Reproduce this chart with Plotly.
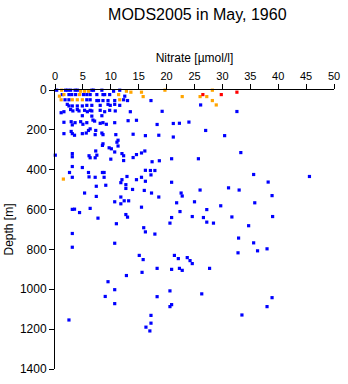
import plotly.graph_objects as go

# Nitrate (umol/l) and depth (m) of each observation, grouped by quality flag colour
blue_nitrate = [
    0.3, 1.9, 2.3, 2.8, 3.6, 4.0, 6.6, 6.9, 8.4, 10.5, 11.6,
    1.3, 2.5, 3.0, 3.7, 5.1, 5.7, 6.3, 7.5, 8.6, 8.9, 9.8, 12.5,
    1.8, 2.5, 5.7, 6.3, 7.5, 7.8, 8.6, 9.5, 10.7, 12.3, 13.0, 17.2,
    2.2, 2.5, 3.1, 4.0, 4.9, 5.7, 6.6, 8.1, 9.5, 9.9, 10.7, 11.6,
    1.6, 2.8, 3.2, 4.0, 4.3, 5.3, 5.8, 6.3, 6.6, 8.1, 8.9, 9.8, 10.8, 13.5, 19.2, 26.1, 32.6,
    1.1, 4.9, 6.6, 8.4,
    1.6, 2.9, 3.1, 3.6, 4.6, 5.0, 5.7, 6.8, 7.1, 8.1, 8.6, 9.2, 10.7, 13.1, 14.6, 18.3, 21.2, 22.3, 24.0, 27.0, 30.4,
    1.6, 2.9, 3.1, 3.5, 4.9, 5.6, 6.3, 7.3, 7.2, 6.0, 8.4, 8.6, 10.9, 11.3, 14.0, 16.2, 18.6, 21.2,
    0.05, 3.1, 3.1, 8.6, 8.5, 11.1, 11.3, 9.7, 10.1, 10.7, 7.3, 7.5, 6.1, 6.3, 7.2, 10.0,
    12.0, 12.3, 12.3, 14.0, 14.6, 15.5, 16.1,
    3.1, 2.6, 3.1, 4.9, 6.0, 8.5, 8.8, 7.2, 8.8, 6.1, 12.9, 12.0, 11.8, 12.7, 14.6, 15.5, 16.2, 16.2,
    7.4, 9.1, 12.7, 13.9, 16.0, 5.3, 7.4, 11.8, 10.7, 12.4, 13.2, 11.8, 15.5, 6.3, 3.1, 3.5, 4.4,
    12.7, 13.0, 7.7, 11.0, 15.9, 16.2, 3.1,
    17.4, 18.7, 20.9, 25.7, 33.3, 17.1, 17.9, 17.2, 20.9, 17.3, 18.6, 22.6, 22.8, 26.0, 31.1, 33.0,
    21.8, 25.0, 29.7, 27.2, 22.4, 20.9, 24.6, 26.6, 31.7, 20.6, 27.2, 28.4, 17.9,
    35.6, 45.6, 38.2, 38.9, 35.8, 34.7, 39.0,
    3.1, 10.7, 15.1, 15.8, 15.6, 12.8, 9.5, 10.7, 9.0, 10.7, 2.5, 16.3,
    32.9, 35.6, 38.0, 36.3, 32.8, 21.4, 23.7, 22.1, 24.2, 24.6, 18.3, 20.9, 22.3, 22.8, 27.7,
    20.6, 26.3, 18.3, 38.9, 20.9, 20.6, 38.0, 33.5, 17.2, 17.2, 17.0,
]
blue_depth = [
    1, 1, 1, 1, 1, 1, 1, 1, 1, 6, 1,
    23, 23, 23, 23, 23, 23, 23, 23, 23, 23, 23, 31,
    49, 49, 49, 49, 53, 53, 53, 53, 53, 49, 53, 53,
    72, 80, 80, 80, 80, 77, 77, 77, 72, 77, 72, 77,
    109, 98, 105, 98, 105, 102, 109, 102, 105, 102, 109, 102, 105, 109, 107, 75, 108,
    114, 129, 131, 129,
    162, 159, 175, 164, 159, 172, 164, 151, 156, 167, 164, 172, 164, 154, 152, 173, 168, 167, 161, 203, 229,
    219, 208, 219, 227, 219, 216, 195, 203, 224, 203, 216, 224, 224, 252, 222, 229, 227, 236,
    327, 319, 335, 270, 278, 262, 281, 290, 295, 311, 306, 327, 330, 340, 340, 347,
    319, 330, 354, 339, 324, 316, 306,
    384, 414, 438, 389, 414, 414, 414, 438, 438, 436, 434, 450, 465, 475, 450, 438, 458, 403,
    483, 478, 494, 499, 504, 517, 534, 537, 561, 556, 556, 571, 588, 594, 599, 598, 615,
    625, 638, 643, 671, 691, 712, 720,
    360, 355, 345, 345, 314, 404, 404, 426, 463, 517, 537, 517, 532, 502, 491, 502,
    566, 561, 581, 600, 610, 640, 635, 640, 637, 668, 663, 668, 723,
    424, 434, 462, 530, 566, 681, 635,
    789, 769, 830, 851, 915, 931, 962, 1002, 1036, 1072, 1154, 1190,
    743, 767, 797, 807, 817, 830, 841, 846, 856, 871, 895, 900, 895, 905, 895,
    1008, 1023, 1037, 1042, 1077, 1087, 1087, 1129, 1131, 1170, 1209,
]

orange_nitrate = [
    1.2, 4.6, 5.3, 6.0, 12.8, 13.6, 15.5, 19.7,
    0.8, 1.6, 4.4, 11.4, 1.1, 3.1, 4.0, 4.9, 11.6,
    15.8, 22.8, 26.0, 27.2, 28.2, 28.2, 28.9, 1.5,
]
orange_depth = [
    1, 6, 6, 6, 6, 11, 11, 1,
    31, 23, 23, 23, 49, 49, 49, 49, 49,
    33, 33, 33, 33, 1, 53, 75, 447,
]

red_nitrate = [26.5, 29.8, 32.6]
red_depth = [23, 23, 11]

x_ticks = [0, 5, 10, 15, 20, 25, 30, 35, 40, 45, 50]
y_ticks = [0, 200, 400, 600, 800, 1000, 1200, 1400]

FONT = "Liberation Sans, Arial, sans-serif"

fig = go.Figure()
for xs, ys, colour in [
    (blue_nitrate, blue_depth, "#0000ff"),
    (orange_nitrate, orange_depth, "#ffa500"),
    (red_nitrate, red_depth, "#ff0000"),
]:
    fig.add_trace(go.Scatter(
        x=xs, y=ys, mode="markers",
        marker=dict(symbol="square", size=3.2, color=colour, line=dict(width=0)),
        cliponaxis=False, showlegend=False, hoverinfo="skip",
    ))

fig.update_layout(
    width=348, height=384,
    margin=dict(l=54, r=8, t=90, b=9),
    paper_bgcolor="white", plot_bgcolor="white",
    font=dict(family=FONT, color="black", size=11),
    title=dict(text="MODS2005 in May, 1960", x=0.567, xanchor="center",
               y=0.962, yanchor="middle", font=dict(size=16, family=FONT)),
)
fig.update_xaxes(
    side="top", range=[0, 50], tickvals=x_ticks, ticktext=[str(v) for v in x_ticks],
    showgrid=False, zeroline=False, showline=True, linecolor="black", linewidth=1,
    ticks="outside", ticklen=5, tickcolor="black", tickwidth=1,
    tickfont=dict(size=11), title=dict(text="Nitrate [µmol/l]", font=dict(size=12), standoff=4),
)
fig.update_yaxes(
    range=[1400, 0], tickvals=y_ticks, ticktext=[str(v) for v in y_ticks],
    showgrid=False, zeroline=False, showline=True, linecolor="black", linewidth=1,
    ticks="outside", ticklen=5, tickcolor="black", tickwidth=1,
    tickfont=dict(size=12), title=dict(text="Depth [m]", font=dict(size=12), standoff=3),
)

fig.write_html("out.html")
